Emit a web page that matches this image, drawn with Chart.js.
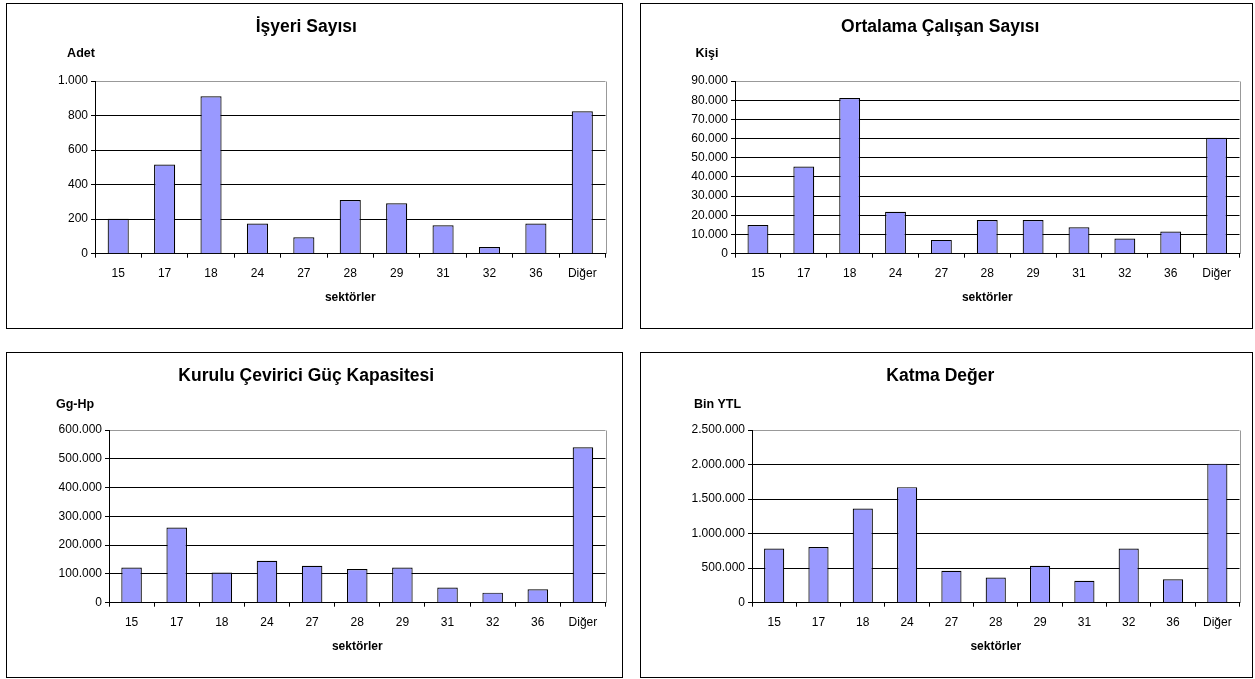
<!DOCTYPE html>
<html>
<head>
<meta charset="utf-8">
<script src="https://cdn.jsdelivr.net/npm/chart.js@4/dist/chart.umd.min.js"></script>
<style>
  body { margin: 0; background: #fff; width: 1255px; height: 679px; position: relative; overflow: hidden; }
  .panel { position: absolute; border: 1px solid #000; box-sizing: border-box; background: #fff; }
  .panel canvas { display: block; }
  #p1 { left: 6px; top: 3px; width: 617px; height: 326px; }
  #p2 { left: 640px; top: 3px; width: 613px; height: 326px; }
  #p3 { left: 6px; top: 352px; width: 617px; height: 326px; }
  #p4 { left: 640px; top: 352px; width: 613px; height: 326px; }
</style>
</head>
<body>
<div class="panel" id="p1"><canvas id="c1" width="615" height="324"></canvas></div>
<div class="panel" id="p2"><canvas id="c2" width="611" height="324"></canvas></div>
<div class="panel" id="p3"><canvas id="c3" width="615" height="324"></canvas></div>
<div class="panel" id="p4"><canvas id="c4" width="611" height="324"></canvas></div>
<script>
// sektör kodları (x ekseni)
const sectors = ["15", "17", "18", "24", "27", "28", "29", "31", "32", "36", "Diğer"];

// seri değerleri
const isyeriSayisi = [202, 516, 912, 175, 95, 311, 292, 165, 39, 175, 825];
const calisanSayisi = [14900, 45400, 81100, 21900, 7200, 17500, 17500, 13800, 7900, 11600, 60400];
const gucKapasitesi = [122500, 261000, 105000, 146000, 128000, 117000, 122000, 52500, 35000, 46700, 540000];
const katmaDeger = [783000, 807000, 1362000, 1673000, 462000, 365000, 535000, 316000, 783000, 340000, 2013000];

// başlıklar ve birimler
const titles = ["İşyeri Sayısı", "Ortalama Çalışan Sayısı", "Kurulu Çevirici Güç Kapasitesi", "Katma Değer"];
const units = ["Adet", "Kişi", "Gg-Hp", "Bin YTL"];
const axisTitle = "sektörler";

// y ekseni üst sınırları ve adımları
const yMax = [1000, 90000, 600000, 2500000];
const yStep = [200, 10000, 100000, 500000];

const series = [isyeriSayisi, calisanSayisi, gucKapasitesi, katmaDeger];

// panel yerleşimi (eksen genişliği, sağ boşluk, birim etiketi kayması)
const layouts = [
    { axisW: 88, padRight: 16.5, unitDx: -14, unitDy: -27 },
    { axisW: 94, padRight: 12.5, unitDx: -28, unitDy: -27.5 },
    { axisW: 102, padRight: 16.5, unitDx: -34, unitDy: -25.5 },
    { axisW: 111, padRight: 12.5, unitDx: -34.5, unitDy: -25 },
];

const FONT = "'Liberation Sans', Arial, sans-serif";

// binlik ayırıcı olarak nokta
const fmt = (v) => String(v).replace(/\B(?=(\d{3})+(?!\d))/g, ".");

// birim etiketi ve sağdaki gri çerçeve
const extrasPlugin = {
    id: "extras",
    afterDraw(chart, args, opts) {
        const { ctx, chartArea } = chart;
        ctx.save();
        ctx.strokeStyle = "#999";
        ctx.lineWidth = 1;
        ctx.beginPath();
        const x = Math.round(chartArea.right) + 0.5;
        ctx.moveTo(x, Math.round(chartArea.top) + 0.5);
        ctx.lineTo(x, Math.round(chartArea.bottom));
        ctx.stroke();
        ctx.fillStyle = "#000";
        ctx.font = "bold 12.5px " + FONT;
        ctx.textAlign = "center";
        ctx.textBaseline = "middle";
        ctx.fillText(opts.unit, chartArea.left + opts.dx, chartArea.top + opts.dy);
        ctx.restore();
    },
};

for (let i = 0; i < 4; i++) {
    const lay = layouts[i];
    new Chart(document.getElementById("c" + (i + 1)), {
        type: "bar",
        plugins: [extrasPlugin],
        data: {
            labels: sectors,
            datasets: [{
                data: series[i],
                backgroundColor: "#9999FF",
                borderColor: "#000",
                borderWidth: 1.2,
                barPercentage: 0.455,
                categoryPercentage: 1,
            }],
        },
        options: {
            responsive: false,
            animation: false,
            layout: { padding: { left: 0, right: lay.padRight, top: 0, bottom: 0 } },
            plugins: {
                legend: { display: false },
                tooltip: { enabled: false },
                title: {
                    display: true,
                    text: titles[i],
                    color: "#000",
                    font: { family: FONT, size: 17.5, weight: "bold" },
                    padding: { top: 12.5, bottom: 43.5 },
                },
                extras: { unit: units[i], dx: lay.unitDx, dy: lay.unitDy },
            },
            scales: {
                x: {
                    grid: { drawOnChartArea: false, tickLength: 4, color: "#000", offset: true },
                    border: { color: "#000" },
                    ticks: { color: "#000", font: { family: FONT, size: 12 }, padding: 9, maxRotation: 0 },
                    title: {
                        display: true,
                        text: axisTitle,
                        color: "#000",
                        font: { family: FONT, size: 12, weight: "bold" },
                        padding: { top: 0, bottom: 23.5 },
                    },
                },
                y: {
                    min: 0,
                    max: yMax[i],
                    afterFit: (scale) => { scale.width = lay.axisW; },
                    grid: {
                        tickLength: 4,
                        tickColor: "#000",
                        color: (c) => (c.tick && c.tick.value === yMax[i] ? "#999" : "#000"),
                    },
                    border: { color: "#000" },
                    ticks: {
                        stepSize: yStep[i],
                        padding: 3,
                        color: "#000",
                        font: { family: FONT, size: 12 },
                        callback: (v) => fmt(v),
                    },
                },
            },
        },
    });
}
</script>
</body>
</html>
